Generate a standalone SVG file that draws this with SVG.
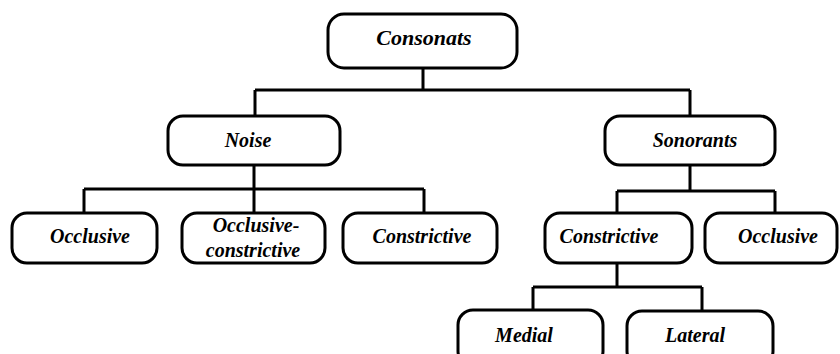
<svg xmlns="http://www.w3.org/2000/svg" width="840" height="354" viewBox="0 0 840 354">
<style>
.box{fill:#fff;stroke:#000;stroke-width:3}
.t{font-family:'Liberation Serif','Times New Roman',serif;font-style:italic;font-weight:bold;font-size:20px;fill:#000;text-anchor:middle}
.c{fill:none;stroke:#000;stroke-width:3}
</style>
<rect width="840" height="354" fill="#fff"/>
<g id="connectors">
<path class="c" d="M423 68V90M255 90H690M255 90V116M690 90V116"/>
<path class="c" d="M254 165V189M84 189H424M84 189V213M254 189V213M424 189V213"/>
<path class="c" d="M690 165V191M617 191H775M617 191V213M775 191V213"/>
<path class="c" d="M617 263V287M533 287H702M533 287V310M702 287V310"/>
</g>
<g id="consonats"><rect class="box" x="328" y="14" width="189" height="54" rx="16"/><text class="t" x="424" y="45" style="font-size:22px">Consonats</text></g>
<g id="noise"><rect class="box" x="168" y="116" width="172" height="49" rx="15"/><text class="t" x="248" y="147">Noise</text></g>
<g id="sonorants"><rect class="box" x="605" y="116" width="170" height="49" rx="15"/><text class="t" x="695" y="147">Sonorants</text></g>
<g id="occlusive1"><rect class="box" x="12" y="213" width="145" height="50" rx="15"/><text class="t" x="90" y="243">Occlusive</text></g>
<g id="occlusive-constrictive"><rect class="box" x="182" y="213" width="143" height="50" rx="15"/><text class="t" x="256" y="232">Occlusive-</text><text class="t" x="253" y="257">constrictive</text></g>
<g id="constrictive1"><rect class="box" x="343" y="213" width="154" height="50" rx="15"/><text class="t" x="422" y="243">Constrictive</text></g>
<g id="constrictive2"><rect class="box" x="545" y="213" width="147" height="50" rx="15"/><text class="t" x="609" y="243">Constrictive</text></g>
<g id="occlusive2"><rect class="box" x="705" y="213" width="132" height="50" rx="15"/><text class="t" x="778" y="243">Occlusive</text></g>
<g id="medial"><rect class="box" x="458" y="310" width="145" height="56" rx="15"/><text class="t" x="524" y="342">Medial</text></g>
<g id="lateral"><rect class="box" x="627" y="311" width="146" height="55" rx="15"/><text class="t" x="695" y="342">Lateral</text></g>
</svg>
